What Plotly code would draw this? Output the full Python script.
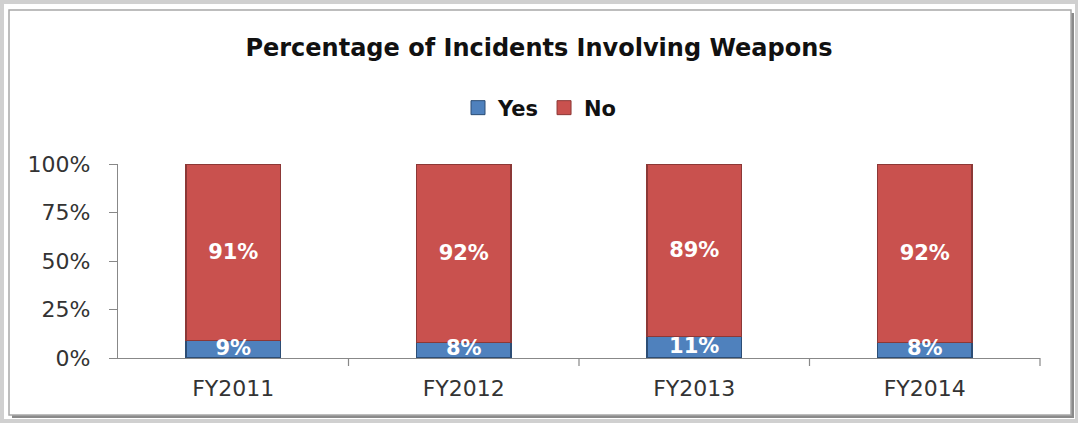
import plotly.graph_objects as go

years = ["FY2011", "FY2012", "FY2013", "FY2014"]
yes_pct = [9, 8, 11, 8]
no_pct = [91, 92, 89, 92]
y_ticks = [0, 25, 50, 75, 100]
y_tick_labels = ["0%", "25%", "50%", "75%", "100%"]

W, H = 1078, 423
L, R, T, B = 118, 38, 164, 65
PW, PH = W - L - R, H - T - B

FONT = "'DejaVu Sans', sans-serif"
BLUE, BLUE_EDGE = "#4f81bd", "#2c4d75"
RED, RED_EDGE = "#c9514e", "#8c3836"


def px_x(p):
    return (p - L) / PW


def px_y(p):
    return (H - B - p) / PH


fig = go.Figure()

fig.add_trace(go.Bar(
    x=years, y=yes_pct, name="Yes", showlegend=False,
    marker=dict(color=BLUE, line=dict(color=BLUE_EDGE, width=1.5)),
    hoverinfo="skip",
))
fig.add_trace(go.Bar(
    x=years, y=no_pct, name="No", showlegend=False,
    marker=dict(color=RED, line=dict(color=RED_EDGE, width=1.5)),
    text=[f"{v}%" for v in no_pct], textposition="inside",
    insidetextanchor="middle",
    textfont=dict(family=FONT, size=21, color="white", weight="bold"),
    hoverinfo="skip",
))
# Yes labels sit centred on the thin blue segment and may spill over it
fig.add_trace(go.Scatter(
    x=years, y=[v / 2 for v in yes_pct], mode="text",
    text=[f"{v}%" for v in yes_pct],
    textfont=dict(family=FONT, size=21, color="white", weight="bold"),
    showlegend=False, hoverinfo="skip",
))
# legend entries with larger square swatches
for name, col, edge in [("Yes", BLUE, BLUE_EDGE), ("No", RED, RED_EDGE)]:
    fig.add_trace(go.Scatter(
        x=[None], y=[None], mode="markers", name=name,
        marker=dict(symbol="square", size=14, color=col,
                    line=dict(color=edge, width=1)),
        hoverinfo="skip",
    ))

shapes = [
    # outer white frame
    dict(type="rect", xref="paper", yref="paper",
         x0=px_x(4), x1=px_x(1075), y0=px_y(419), y1=px_y(4),
         fillcolor="white", line=dict(width=0), layer="below"),
    # right and bottom shadow of the panel
    dict(type="rect", xref="paper", yref="paper",
         x0=px_x(12), x1=px_x(1074), y0=px_y(418), y1=px_y(13),
         fillcolor="#8a8a8a", line=dict(width=0), layer="below"),
    # inner panel
    dict(type="rect", xref="paper", yref="paper",
         x0=px_x(9), x1=px_x(1071), y0=px_y(415), y1=px_y(10),
         fillcolor="white", line=dict(color="#a8a8a8", width=1.5),
         layer="below"),
]
# category separator ticks below the x axis
for i in range(1, len(years) + 1):
    xp = i / len(years)
    shapes.append(dict(type="line", xref="paper", yref="paper",
                       x0=xp, x1=xp, y0=0, y1=-8 / PH,
                       line=dict(color="#888888", width=1.2)))

fig.update_layout(
    width=W, height=H,
    margin=dict(l=L, r=R, t=T, b=B),
    paper_bgcolor="#d0d0d0",
    plot_bgcolor="rgba(0,0,0,0)",
    barmode="stack",
    bargap=0.59,
    title=dict(text="<b>Percentage of Incidents Involving Weapons</b>",
               x=0.5, xref="container", xanchor="center",
               y=1 - 48 / H, yanchor="middle",
               font=dict(family=FONT, size=24, color="#111111")),
    legend=dict(orientation="h", x=px_x(540), xanchor="center",
                y=px_y(108), yanchor="middle",
                font=dict(family=FONT, size=21, color="#111111", weight="bold"),
                bgcolor="rgba(0,0,0,0)", itemwidth=30, traceorder="normal"),
    font=dict(family=FONT, color="#404040"),
    shapes=shapes,
    showlegend=True,
)

fig.update_xaxes(
    showline=True, linecolor="#888888", linewidth=1.2,
    showgrid=False, ticks="", tickfont=dict(family=FONT, size=22, color="#333333"),
    ticklabelstandoff=10,
)
fig.update_yaxes(
    range=[0, 100], tickvals=y_ticks, ticktext=y_tick_labels,
    showline=True, linecolor="#888888", linewidth=1.2,
    showgrid=False, ticks="outside", ticklen=8, tickcolor="#888888",
    tickfont=dict(family=FONT, size=22, color="#333333"),
    ticklabelstandoff=14, zeroline=False,
)

fig.write_html("out.html")
